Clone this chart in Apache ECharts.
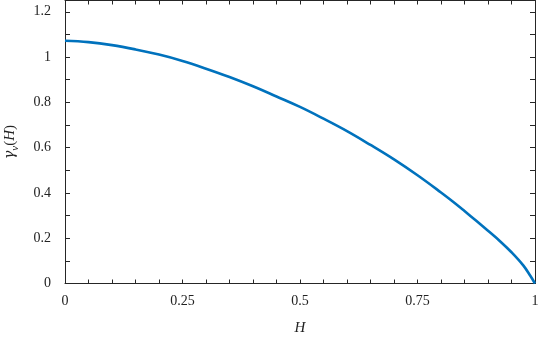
<!DOCTYPE html>
<html>
<head>
<meta charset="utf-8">
<script src="https://cdn.jsdelivr.net/npm/echarts@6/dist/echarts.min.js"></script>
<style>html,body{margin:0;padding:0;background:#fff}#c{width:540px;height:337px}</style>
</head>
<body>
<div id="c"></div>
<script>
const hValues = [0, 0.05, 0.1, 0.15, 0.2, 0.25, 0.3, 0.35, 0.4, 0.45, 0.5, 0.55, 0.6, 0.65, 0.7, 0.75, 0.8, 0.825, 0.85, 0.875, 0.9, 0.925, 0.95, 0.975, 0.99, 1.0];
const gammaValues = [1.072, 1.066, 1.053, 1.034, 1.011, 0.983, 0.949, 0.912, 0.871, 0.826, 0.780, 0.728, 0.673, 0.612, 0.548, 0.478, 0.402, 0.362, 0.320, 0.277, 0.233, 0.188, 0.138, 0.080, 0.034, 0.0];
const xTickLabels = ['0', '0.25', '0.5', '0.75', '1'];
const yTickLabels = ['0', '0.2', '0.4', '0.6', '0.8', '1', '1.2'];

const FONT = '"Liberation Serif", "DejaVu Serif", serif';
const AX = '#262626';

function xFmt(v) {
  const k = v / 0.25;
  if (Math.abs(k - Math.round(k)) < 1e-6) return xTickLabels[Math.round(k)] || '';
  return '';
}
function yFmt(v) {
  const k = v / 0.2;
  if (Math.abs(k - Math.round(k)) < 1e-6) return yTickLabels[Math.round(k)] || '';
  return '';
}

const chart = echarts.init(document.getElementById('c'));
const common = {
  axisLine: { show: true, onZero: false, lineStyle: { color: AX, width: 1 } },
  splitLine: { show: false }
};
chart.setOption({
  animation: false,
  backgroundColor: '#fff',
  grid: { left: 65, right: 5, top: 0.5, bottom: 53.5, containLabel: false, outerBoundsMode: 'none' },
  xAxis: [
    Object.assign({}, common, {
      type: 'value', min: 0, max: 1, interval: 0.05, position: 'bottom',
      axisTick: { show: true, inside: true, length: 4, lineStyle: { color: AX } },
      axisLabel: { formatter: xFmt, fontFamily: FONT, fontSize: 14, color: '#222', margin: 11, showMaxLabel: true, hideOverlap: false },
      name: 'H', nameLocation: 'middle', nameGap: 37,
      nameTextStyle: { fontFamily: FONT, fontSize: 15, fontStyle: 'italic', color: '#222' }
    }),
    Object.assign({}, common, {
      type: 'value', min: 0, max: 1, interval: 0.05, position: 'top',
      axisTick: { show: true, inside: true, length: 4, lineStyle: { color: AX } },
      axisLabel: { show: false }
    })
  ],
  yAxis: [
    Object.assign({}, common, {
      type: 'value', min: 0, max: 1.25, interval: 0.1, position: 'left',
      axisTick: { show: true, inside: true, length: 5, lineStyle: { color: AX } },
      axisLabel: { formatter: yFmt, fontFamily: FONT, fontSize: 14, color: '#222', margin: 14, showMaxLabel: false },
      name: '{g|γ}{s|v}{n|(}{i|H}{n|)}', nameLocation: 'middle', nameGap: 44, nameRotate: 90,
      nameTextStyle: {
        rich: {
          g: { fontFamily: '"DejaVu Serif", serif', fontSize: 14, fontStyle: 'italic', color: '#222', lineHeight: 22, verticalAlign: 'middle' },
          i: { fontFamily: FONT, fontSize: 15, fontStyle: 'italic', color: '#222', lineHeight: 22, verticalAlign: 'middle' },
          n: { fontFamily: FONT, fontSize: 15, color: '#222', lineHeight: 22, verticalAlign: 'middle' },
          s: { fontFamily: FONT, fontSize: 11, fontStyle: 'italic', color: '#222', lineHeight: 22, verticalAlign: 'bottom' }
        }
      }
    }),
    Object.assign({}, common, {
      type: 'value', min: 0, max: 1.25, interval: 0.1, position: 'right',
      axisTick: { show: true, inside: true, length: 5, lineStyle: { color: AX } },
      axisLabel: { show: false }
    })
  ],
  series: [{
    type: 'line',
    data: hValues.map((h, i) => [h, gammaValues[i]]),
    smooth: 0.4,
    showSymbol: false,
    clip: false,
    lineStyle: { color: '#0072BD', width: 2.6 },
    xAxisIndex: 0, yAxisIndex: 0
  }]
});
</script>
</body>
</html>
